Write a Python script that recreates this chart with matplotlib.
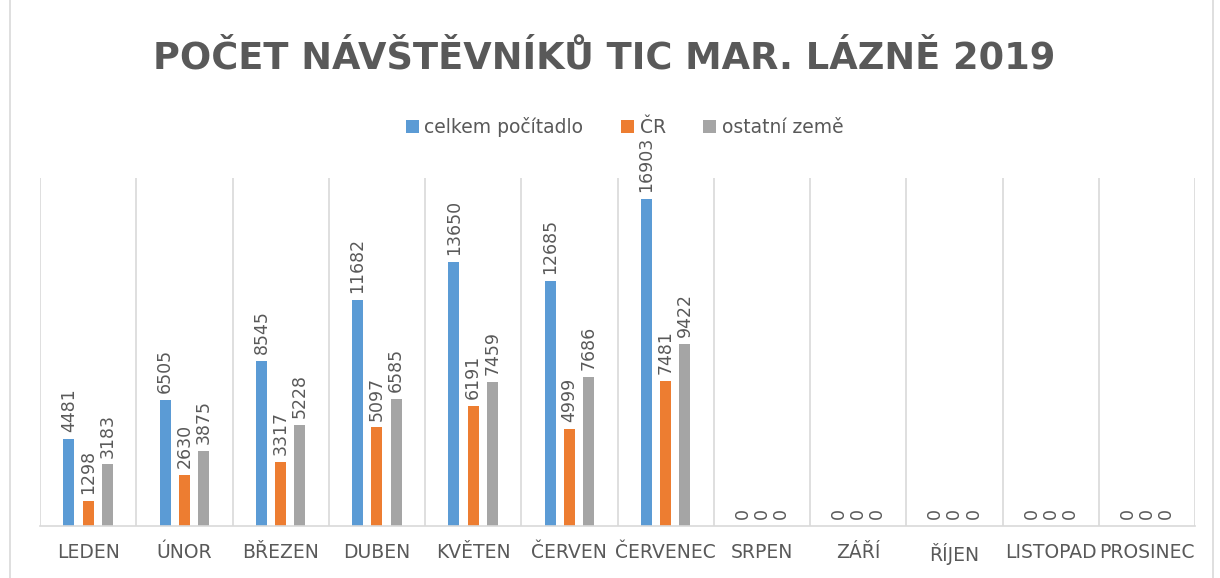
import numpy as np
import matplotlib
matplotlib.use("Agg")
import matplotlib.pyplot as plt
from matplotlib.patches import Rectangle

months = ["LEDEN", "ÚNOR", "BŘEZEN", "DUBEN", "KVĚTEN", "ČERVEN",
          "ČERVENEC", "SRPEN", "ZÁŘÍ", "ŘÍJEN", "LISTOPAD", "PROSINEC"]
celkem = [4481, 6505, 8545, 11682, 13650, 12685, 16903, 0, 0, 0, 0, 0]
cr = [1298, 2630, 3317, 5097, 6191, 4999, 7481, 0, 0, 0, 0, 0]
ostatni = [3183, 3875, 5228, 6585, 7459, 7686, 9422, 0, 0, 0, 0, 0]
series_names = ["celkem počítadlo", "ČR", "ostatní země"]

txt = "#595959"
colors = ["#5B9BD5", "#ED7D31", "#A5A5A5"]

fig = plt.figure(figsize=(12.2, 5.78), dpi=100)
# light frame around the chart
fig.patches.append(Rectangle((10 / 1220, -0.01), 1203 / 1220, 1.02,
                             transform=fig.transFigure, fill=False,
                             edgecolor="#D9D9D9", linewidth=1.2))
ax = fig.add_axes([40 / 1220, 1 - 526 / 578, 1155 / 1220, 348 / 578])

x = np.arange(len(months))
w = 0.115
offs = [-0.2, 0, 0.2]
for vals, off, c, name in zip([celkem, cr, ostatni], offs, colors, series_names):
    bars = ax.bar(x + off, vals, width=w, color=c, label=name)
    for b, v in zip(bars, vals):
        ax.annotate(str(v), (b.get_x() + b.get_width() / 2, b.get_height()),
                    xytext=(0, 5), textcoords="offset points", rotation=90,
                    ha="center", va="bottom", fontsize=12.5, color=txt)

ax.set_xlim(-0.5, len(months) - 0.5)
ax.set_ylim(0, 18000)
for b in np.arange(-0.5, len(months), 1):
    ax.axvline(b, color="#D9D9D9", linewidth=1.2, zorder=0)
ax.set_yticks([])
ax.set_xticks(x)
ax.set_xticklabels(months, fontsize=13.5, color=txt)
ax.tick_params(axis="x", length=0, pad=12)
for s in ["top", "left", "right"]:
    ax.spines[s].set_visible(False)
ax.spines["bottom"].set_color("#D9D9D9")
ax.spines["bottom"].set_linewidth(1.2)

fig.text(0.495, 1 - 58 / 578, "POČET NÁVŠTĚVNÍKŮ TIC MAR. LÁZNĚ 2019",
         ha="center", va="center", fontsize=26.5, fontweight="bold", color=txt)
fig.legend(loc="center", bbox_to_anchor=(0.512, 1 - 127 / 578), ncol=3,
           frameon=False, fontsize=13.5, labelcolor=txt, handlelength=0.7,
           handleheight=0.7, handletextpad=0.3, columnspacing=2.0)

fig.savefig("out.png", dpi=100)
